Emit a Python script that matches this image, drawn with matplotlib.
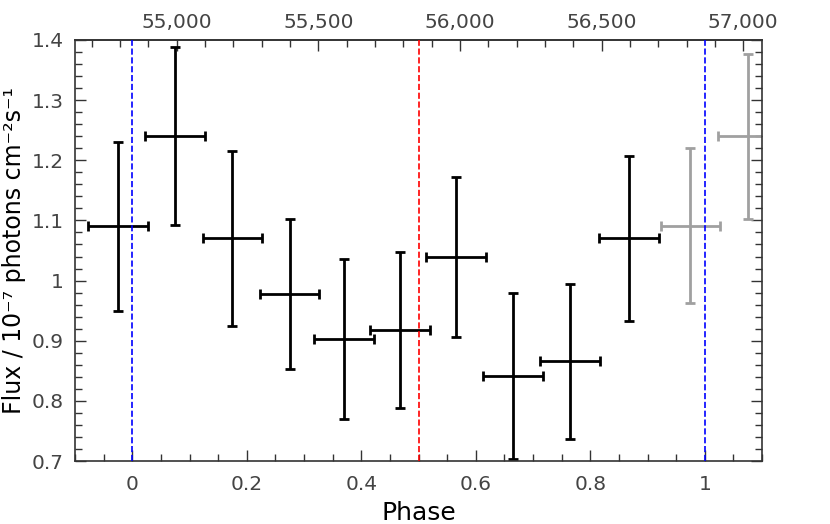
import numpy as np
import matplotlib
matplotlib.use('Agg')
import matplotlib.pyplot as plt

# folded light curve, bin width 0.1 in phase
phase = [-0.025, 0.075, 0.175, 0.275, 0.370, 0.468, 0.565, 0.665, 0.765, 0.868]
flux = [1.090, 1.240, 1.070, 0.978, 0.903, 0.918, 1.040, 0.841, 0.866, 1.070]
flux_err = [0.141, 0.148, 0.145, 0.125, 0.133, 0.130, 0.133, 0.138, 0.129, 0.137]
phase_err = 0.052

# repeated bins beyond phase 1 (grey)
phase_rep = [0.975, 1.075]
flux_rep = [1.091, 1.240]
flux_rep_err = [0.129, 0.137]

# ephemeris for the top MJD axis
period = 2021.0
t0 = 54843.0

fig = plt.figure(figsize=(8.3, 5.24), dpi=100)
ax = fig.add_axes([0.0904, 0.1202, 0.8277, 0.8035])

ax.errorbar(phase, flux, xerr=phase_err, yerr=flux_err, fmt='none',
            ecolor='black', elinewidth=2, capsize=3.5, capthick=2)
ax.errorbar(phase_rep, flux_rep, xerr=phase_err, yerr=flux_rep_err, fmt='none',
            ecolor='#a0a0a0', elinewidth=2, capsize=3.5, capthick=2)

ax.axvline(0, color='#0000ff', ls='--', lw=1.2, zorder=5)
ax.axvline(1, color='#0000ff', ls='--', lw=1.2, zorder=5)
ax.axvline(0.5, color='#ff0000', ls='--', lw=1.2, zorder=5)

ax.set_xlim(-0.1, 1.1)
ax.set_ylim(0.7, 1.4)
ax.set_xticks([0, 0.2, 0.4, 0.6, 0.8, 1.0])
ax.set_xticklabels(['0', '0.2', '0.4', '0.6', '0.8', '1'])
ax.set_yticks([0.7, 0.8, 0.9, 1.0, 1.1, 1.2, 1.3, 1.4])
ax.set_yticklabels(['0.7', '0.8', '0.9', '1', '1.1', '1.2', '1.3', '1.4'])
ax.set_xticks(np.arange(-0.1, 1.1001, 0.05), minor=True)
ax.set_yticks(np.arange(0.7, 1.4001, 0.02), minor=True)

ax.tick_params(which='both', direction='in', right=True, top=False,
               labelsize=14.5, labelcolor='#444444', color='#333333')
ax.tick_params(axis='x', pad=10)
ax.tick_params(axis='y', pad=8)
ax.tick_params(which='major', length=8, width=1)
ax.tick_params(which='minor', length=5, width=1)
for s in ax.spines.values():
    s.set_color('#333333')
    s.set_linewidth(1.2)

ax.set_xlabel('Phase', fontsize=18)
ax.xaxis.set_label_coords(0.5, -0.095)
ax.set_ylabel('Flux / 10\u207b\u2077 photons cm\u207b\u00b2s\u207b\u00b9', fontsize=17)
ax.yaxis.set_label_coords(-0.071, 0.5)

top = ax.secondary_xaxis('top', functions=(lambda p: t0 + p * period,
                                           lambda m: (m - t0) / period))
top.set_xticks([55000, 55500, 56000, 56500, 57000])
top.set_xticklabels(['55,000', '55,500', '56,000', '56,500', '57,000'])
top.set_xticks(np.arange(54700, 57100, 100), minor=True)
top.tick_params(which='both', direction='in', labelsize=14.5,
                labelcolor='#444444', color='#333333', pad=6)
top.tick_params(which='major', length=8, width=1)
top.tick_params(which='minor', length=5, width=1)
top.spines['top'].set_color('#333333')
top.spines['top'].set_linewidth(1.2)

fig.savefig('out.png', dpi=100)
